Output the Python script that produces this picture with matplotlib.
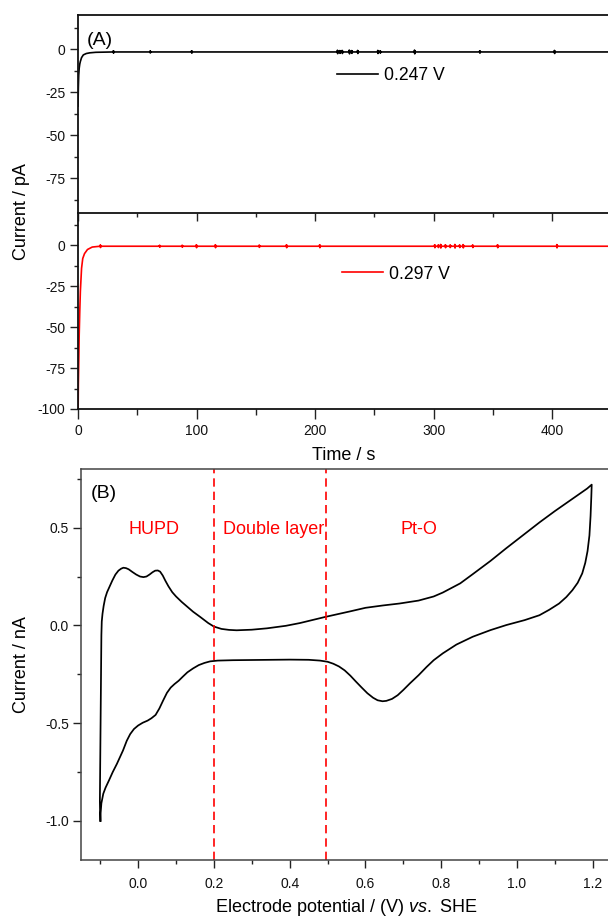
import matplotlib
matplotlib.use('Agg')
import matplotlib.pyplot as plt
from matplotlib.ticker import MultipleLocator

plt.rcParams['font.family'] = ['Liberation Sans', 'DejaVu Sans']
plt.rcParams['mathtext.fontset'] = 'custom'
plt.rcParams['mathtext.rm'] = 'Liberation Sans'
plt.rcParams['mathtext.it'] = 'Liberation Sans:italic'

# ---------------- data ----------------
# (A) chronoamperometry, 0.247 V (black)
t_247 = [0, 0.3, 0.6, 1.0, 1.5, 2.0, 3.0, 4.5, 7, 10, 15, 30, 447]
i_247 = [-33, -22, -15, -11, -8.5, -7, -4.8, -3.2, -2.4, -2.0, -1.7, -1.5, -1.5]
burst_t_247 = [30, 61, 96, 219, 221, 223, 229, 231, 236, 253, 255, 284, 339, 402]
burst_a_247 = [0.7, 0.6, 0.7, 1.0, 0.8, 0.9, 1.1, 0.8, 0.9, 0.9, 0.7, 1.1, 0.7, 0.9]

# (A) chronoamperometry, 0.297 V (red)
t_297 = [0, 0.3, 0.7, 1.0, 1.5, 2.0, 3.0, 4.0, 5.5, 8, 12, 20, 447]
i_297 = [-110, -85, -69, -55, -40, -28, -14, -8, -5, -2.5, -1.0, -0.5, -0.5]
burst_t_297 = [19, 69, 88, 100, 116, 153, 176, 204, 301, 304, 306, 310, 314, 318, 322,
               325, 333, 354, 404]
burst_a_297 = [0.8, 0.6, 0.6, 0.9, 0.9, 0.7, 0.9, 0.9, 0.9, 0.8, 1.1, 0.9, 0.8, 1.1, 0.8,
               1.0, 0.8, 0.9, 1.0]

# (B) cyclic voltammogram: anodic then cathodic sweep
cv_anodic_E = [-0.100, -0.101, -0.100, -0.099, -0.098, -0.097, -0.096, -0.094, -0.091, -0.087,
               -0.082, -0.075, -0.068, -0.060, -0.052, -0.045, -0.039, -0.032, -0.025, -0.015,
               -0.005, 0.005, 0.014, 0.022, 0.030, 0.038, 0.045, 0.052, 0.058, 0.065,
               0.072, 0.080, 0.090, 0.100, 0.115, 0.130, 0.145, 0.164, 0.185, 0.200,
               0.220, 0.240, 0.260, 0.300, 0.340, 0.390, 0.427, 0.493, 0.560, 0.600,
               0.646, 0.690, 0.740, 0.780, 0.804, 0.850, 0.883, 0.930, 0.971, 1.020,
               1.060, 1.100, 1.129, 1.160, 1.185, 1.197]
cv_anodic_I = [-1.00, -0.90, -0.70, -0.50, -0.25, -0.05, 0.02, 0.06, 0.10, 0.14,
               0.17, 0.20, 0.23, 0.26, 0.28, 0.29, 0.295, 0.293, 0.287, 0.273,
               0.260, 0.250, 0.247, 0.250, 0.260, 0.272, 0.280, 0.281, 0.275, 0.255,
               0.228, 0.200, 0.170, 0.148, 0.120, 0.095, 0.070, 0.043, 0.012, -0.006,
               -0.018, -0.023, -0.025, -0.022, -0.015, -0.002, 0.012, 0.043, 0.072, 0.090,
               0.102, 0.112, 0.127, 0.148, 0.168, 0.215, 0.262, 0.330, 0.394, 0.468,
               0.528, 0.585, 0.624, 0.665, 0.700, 0.720]
cv_cathodic_E = [1.197, 1.196, 1.194, 1.191, 1.186, 1.180, 1.172, 1.160, 1.146, 1.130,
                 1.111, 1.085, 1.059, 1.020, 0.972, 0.930, 0.883, 0.840, 0.804, 0.780,
                 0.761, 0.740, 0.717, 0.700, 0.685, 0.670, 0.655, 0.645, 0.632, 0.620,
                 0.605, 0.590, 0.575, 0.560, 0.545, 0.530, 0.515, 0.500, 0.480, 0.450,
                 0.400, 0.300, 0.250, 0.210, 0.190, 0.175, 0.160, 0.145, 0.130, 0.118,
                 0.107, 0.096, 0.086, 0.076, 0.066, 0.056, 0.046, 0.035, 0.025, 0.012,
                 0.000, -0.011, -0.021, -0.030, -0.040, -0.056, -0.067, -0.077, -0.086, -0.092,
                 -0.097, -0.099, -0.099]
cv_cathodic_I = [0.720, 0.660, 0.560, 0.460, 0.380, 0.320, 0.266, 0.218, 0.180, 0.145,
                 0.112, 0.080, 0.052, 0.027, 0.002, -0.024, -0.058, -0.098, -0.143, -0.178,
                 -0.213, -0.255, -0.297, -0.330, -0.357, -0.376, -0.386, -0.388, -0.383, -0.370,
                 -0.347, -0.318, -0.288, -0.257, -0.230, -0.210, -0.196, -0.186, -0.180, -0.176,
                 -0.175, -0.177, -0.178, -0.180, -0.184, -0.192, -0.203, -0.220, -0.240, -0.262,
                 -0.283, -0.300, -0.318, -0.345, -0.384, -0.425, -0.458, -0.475, -0.487, -0.498,
                 -0.512, -0.530, -0.556, -0.590, -0.640, -0.708, -0.750, -0.793, -0.830, -0.861,
                 -0.910, -0.960, -1.000]
region_bounds = [0.2, 0.495]
region_labels = ["HUPD", "Double layer", "Pt-O"]
region_label_x = [0.042, 0.357, 0.740]
legend_labels = ["0.247 V", "0.297 V"]


def add_bursts(t, i, bt, ba, base):
    pts = list(zip(t, i))
    for b, a in zip(bt, ba):
        pts += [(b - 0.4, base), (b - 0.2, base + a), (b, base - a),
                (b + 0.2, base + 0.6 * a), (b + 0.4, base)]
    pts.sort()
    return [p[0] for p in pts], [p[1] for p in pts]


bt247, bi247 = add_bursts(t_247, i_247, burst_t_247, burst_a_247, i_247[-1])
bt297, bi297 = add_bursts(t_297, i_297, burst_t_297, burst_a_297, i_297[-1])

# ---------------- figure ----------------
fig = plt.figure(figsize=(6.08, 9.19), dpi=100)
W, H = 608, 919
axA1 = fig.add_axes([78 / W, 1 - 212.7 / H, 530 / W, 197.7 / H])
axA2 = fig.add_axes([78 / W, 1 - 409 / H, 530 / W, 196.3 / H])
axB = fig.add_axes([81.3 / W, 1 - 860 / H, 526.7 / W, 391 / H])

tick_col = '#222222'
for ax in (axA1, axA2, axB):
    ax.spines['right'].set_visible(False)
    ax.tick_params(which='both', direction='out', colors=tick_col, labelsize=10,
                   labelcolor='#111111')
    ax.tick_params(which='major', length=5.5, width=1.0, pad=3.5)
    ax.tick_params(which='minor', length=3.2, width=1.0)
    ax.patch.set_alpha(0)

for sp in ('top', 'left', 'bottom'):
    axA1.spines[sp].set_linewidth(1.3)
    axA1.spines[sp].set_color('#111111')
axA2.spines['top'].set_visible(False)
for sp in ('left', 'bottom'):
    axA2.spines[sp].set_linewidth(1.3)
    axA2.spines[sp].set_color('#111111')
for sp in ('top', 'left', 'bottom'):
    axB.spines[sp].set_linewidth(1.1)
    axB.spines[sp].set_color('#444444')

# Panel A top
l1, = axA1.plot(bt247, bi247, color='black', lw=1.2, label=legend_labels[0])
axA1.set_xlim(0, 447)
axA1.set_ylim(-95, 20)
axA1.set_yticks([0, -25, -50, -75])
axA1.set_yticklabels(['0', '-25', '-50', '-75'])
axA1.yaxis.set_minor_locator(MultipleLocator(12.5))
axA1.xaxis.set_major_locator(MultipleLocator(100))
axA1.xaxis.set_minor_locator(MultipleLocator(50))
axA1.tick_params(axis='x', which='both', labelbottom=False)
axA1.legend(handles=[l1], loc='center left', bbox_to_anchor=(0.4887, 0.6915),
            frameon=False, fontsize=12.7, handlelength=2.3, handletextpad=0.35,
            borderpad=0, borderaxespad=0)
axA1.text(0.017, 0.8735, '(A)', transform=axA1.transAxes, fontsize=14,
          ha='left', va='center')

# Panel A bottom
l2, = axA2.plot(bt297, bi297, color='#ff0000', lw=1.2, label=legend_labels[1])
axA2.set_xlim(0, 447)
axA2.set_ylim(-100, 20)
axA2.set_yticks([0, -25, -50, -75, -100])
axA2.set_yticklabels(['0', '-25', '-50', '-75', '-100'])
axA2.yaxis.set_minor_locator(MultipleLocator(12.5))
axA2.xaxis.set_major_locator(MultipleLocator(100))
axA2.xaxis.set_minor_locator(MultipleLocator(50))
axA2.tick_params(axis='x', which='major', length=7, pad=4)
axA2.tick_params(axis='x', which='minor', length=4)
axA2.legend(handles=[l2], loc='center left', bbox_to_anchor=(0.498, 0.6877),
            frameon=False, fontsize=12.7, handlelength=2.3, handletextpad=0.35,
            borderpad=0, borderaxespad=0)

fig.text(22 / W, 1 - 212 / H, 'Current / pA', rotation=90, ha='center', va='center',
         fontsize=13)
fig.text(344 / W, 1 - 455 / H, 'Time / s', ha='center', va='center', fontsize=13)

# Panel B
axB.plot(cv_anodic_E + cv_cathodic_E, cv_anodic_I + cv_cathodic_I, color='black',
         lw=1.25, solid_joinstyle='round')
for xb in region_bounds:
    axB.axvline(xb, color='#ff0000', lw=1.2, dashes=(5, 3))
axB.set_xlim(-0.15, 1.24)
axB.set_ylim(-1.2, 0.8)
axB.set_xticks([0.0, 0.2, 0.4, 0.6, 0.8, 1.0, 1.2])
axB.set_xticklabels(['0.0', '0.2', '0.4', '0.6', '0.8', '1.0', '1.2'])
axB.xaxis.set_minor_locator(MultipleLocator(0.1))
axB.set_yticks([-1.0, -0.5, 0.0, 0.5])
axB.set_yticklabels(['-1.0', '-0.5', '0.0', '0.5'])
axB.yaxis.set_minor_locator(MultipleLocator(0.25))
axB.tick_params(axis='x', which='major', length=5.5, pad=6.5)
for lab, xl in zip(region_labels, region_label_x):
    axB.text(xl, 0.488, lab, color='#ff0000', fontsize=13, ha='center', va='center')
axB.text(0.0184, 0.9386, '(B)', transform=axB.transAxes, fontsize=14,
         ha='left', va='center')
fig.text(21.7 / W, 1 - 664.5 / H, 'Current / nA', rotation=90, ha='center', va='center',
         fontsize=13)
fig.text(346 / W, 1 - 908 / H, r'Electrode potential / (V) $\it{vs.}$ SHE',
         ha='center', va='center', fontsize=13)

fig.savefig('out.png', dpi=100)
